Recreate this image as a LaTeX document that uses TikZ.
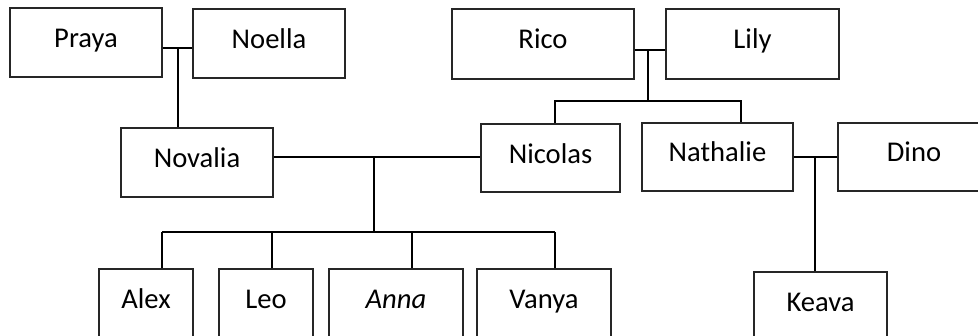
\documentclass[tikz,border=0pt]{standalone}
\usepackage{fontspec}
\setmainfont{Carlito}
\begin{document}
\begin{tikzpicture}[x=0.5pt,y=-0.5pt,
  box/.style={draw=black!85,line width=0.55pt,rectangle,inner sep=0pt,
    font=\fontsize{14.3pt}{16pt}\selectfont,text height=9pt,text depth=4pt},
  lowbox/.style={box,text height=10.5pt,text depth=9.5pt},
  conn/.style={draw=black,line width=0.8pt}]
\useasboundingbox (0,0) rectangle (978,336);
\clip (0,0) rectangle (978,336);
% top generation
\node[box,minimum width=76pt,minimum height=34.5pt] (praya) at (86,42.5) {Praya};
\node[box,minimum width=76pt,minimum height=34.5pt] (noella) at (269,43.5) {Noella};
\node[box,minimum width=91pt,minimum height=35pt] (rico) at (543,44) {Rico};
\node[box,minimum width=86.5pt,minimum height=35pt] (lily) at (752.5,44) {Lily};
% middle generation
\node[box,minimum width=76pt,minimum height=34.5pt] (novalia) at (197,162.5) {Novalia};
\node[box,minimum width=69.5pt,minimum height=34pt] (nicolas) at (550.5,158) {Nicolas};
\node[box,minimum width=75.5pt,minimum height=34pt] (nathalie) at (717.5,157) {Nathalie};
\node[box,minimum width=76pt,minimum height=34pt] (dino) at (914,157) {Dino};
% bottom generation
\node[lowbox,minimum width=47pt,minimum height=38pt] (alex) at (146,307) {Alex};
\node[lowbox,minimum width=47pt,minimum height=38pt] (leo) at (266,307) {Leo};
\node[lowbox,minimum width=67pt,minimum height=38pt] (anna) at (396,307) {\itshape Anna};
\node[lowbox,minimum width=67pt,minimum height=38pt] (vanya) at (544,307) {Vanya};
\node[lowbox,minimum width=66.5pt,minimum height=38pt] (keava) at (820.5,310) {Keava};
% Praya + Noella
\coordinate (pn) at (178,48);
\draw[conn] (praya.east |- pn) -- (noella.west |- pn);
\draw[conn] (pn) -- (pn |- novalia.north);
% Rico + Lily
\coordinate (rl) at (648,50);
\coordinate (rlb) at (648,101);
\coordinate (nic) at (555,101);
\coordinate (nat) at (741,101);
\draw[conn] (rico.east |- rl) -- (lily.west |- rl);
\draw[conn] (rl) -- (rlb);
\draw[conn] (nicolas.north -| nic) -- (nic) -- (nat) -- (nathalie.north -| nat);
% Novalia + Nicolas
\coordinate (nn) at (374,157);
\coordinate (kids) at (374,232);
\coordinate (ka) at (162,232);
\coordinate (kl) at (272,232);
\coordinate (kan) at (412,232);
\coordinate (kv) at (555,232);
\draw[conn] (novalia.east |- nn) -- (nicolas.west |- nn);
\draw[conn] (nn) -- (kids);
\draw[conn] (ka) -- (kv);
\draw[conn] (ka) -- (ka |- alex.north);
\draw[conn] (kl) -- (kl |- leo.north);
\draw[conn] (kan) -- (kan |- anna.north);
\draw[conn] (kv) -- (kv |- vanya.north);
% Nathalie + Dino
\coordinate (nd) at (815,157);
\draw[conn] (nathalie.east |- nd) -- (dino.west |- nd);
\draw[conn] (nd) -- (nd |- keava.north);
\end{tikzpicture}
\end{document}
